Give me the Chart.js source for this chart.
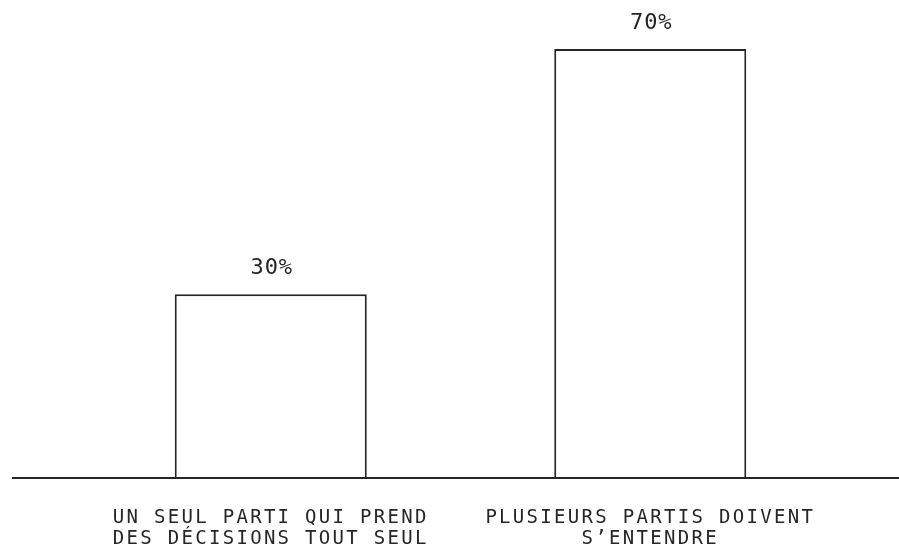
<!DOCTYPE html>
<html>
<head>
<meta charset="utf-8">
<script src="https://cdn.jsdelivr.net/npm/chart.js@4"></script>
<style>
  html, body { margin: 0; padding: 0; background: #fff; }
  #wrap { width: 899px; height: 552px; }
</style>
</head>
<body>
<div id="wrap"><canvas id="chart"></canvas></div>
<script>
const categories = [
  ['UN SEUL PARTI QUI PREND', 'DES DÉCISIONS TOUT SEUL'],
  ['PLUSIEURS PARTIS DOIVENT', 'S\u2019ENTENDRE']
];
const shares = [30, 70];
const valueLabels = ['30%', '70%'];

const ink = '#262626';
const mono = '"DejaVu Sans Mono", "Liberation Mono", monospace';

// letter spacing for tick labels, the canvas keeps it between draws
const spacing = {
  id: 'spacing',
  beforeUpdate(chart) { chart.ctx.letterSpacing = '2.3px'; },
  beforeDraw(chart) { chart.ctx.letterSpacing = '2.3px'; }
};

// baseline across the whole width
const baseline = {
  id: 'baseline',
  afterDatasetsDraw(chart) {
    const ctx = chart.ctx;
    const y = chart.scales.y.getPixelForValue(0);
    ctx.save();
    ctx.strokeStyle = ink;
    ctx.lineWidth = 2;
    ctx.beginPath();
    ctx.moveTo(12, y);
    ctx.lineTo(chart.width, y);
    ctx.stroke();
    ctx.restore();
  }
};

// value labels over the bars
const barValues = {
  id: 'barValues',
  afterDatasetsDraw(chart) {
    const ctx = chart.ctx;
    const meta = chart.getDatasetMeta(0);
    ctx.save();
    ctx.letterSpacing = '1px';
    ctx.font = '22px ' + mono;
    ctx.fillStyle = ink;
    ctx.textAlign = 'center';
    ctx.textBaseline = 'alphabetic';
    meta.data.forEach((bar, i) => {
      ctx.fillText(valueLabels[i], bar.x + 1, bar.y - 20);
    });
    ctx.restore();
  }
};

new Chart(document.getElementById('chart'), {
  type: 'bar',
  data: {
    labels: categories,
    datasets: [{
      data: shares,
      backgroundColor: '#ffffff',
      borderColor: ink,
      borderWidth: 2,
      barPercentage: 0.506,
      categoryPercentage: 1
    }]
  },
  options: {
    responsive: true,
    maintainAspectRatio: false,
    animation: false,
    layout: { padding: { left: 81, right: 59, top: 0, bottom: 0 } },
    plugins: {
      legend: { display: false },
      tooltip: { enabled: false }
    },
    scales: {
      x: {
        grid: { display: false, drawTicks: false },
        border: { display: false },
        ticks: {
          color: ink,
          padding: 30,
          maxRotation: 0,
          autoSkip: false,
          font: { family: mono, size: 19, lineHeight: 1.08 }
        },
        afterFit(axis) { axis.height = 74; }
      },
      y: {
        display: false,
        min: 0,
        max: 78
      }
    }
  },
  plugins: [spacing, baseline, barValues]
});
</script>
</body>
</html>
